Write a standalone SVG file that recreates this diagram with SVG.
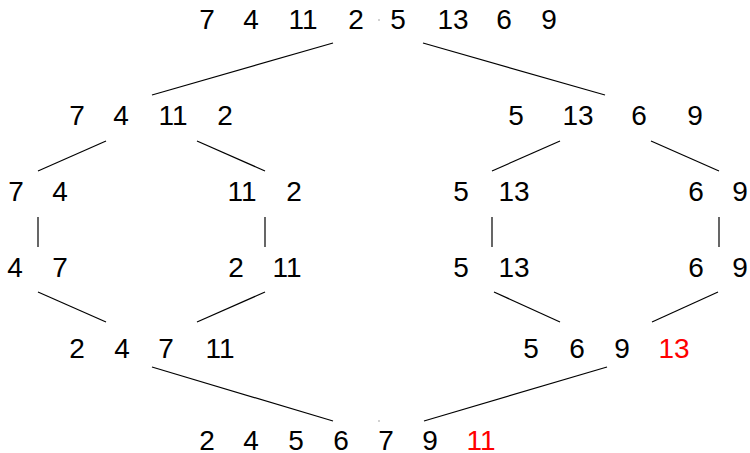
<svg xmlns="http://www.w3.org/2000/svg" width="750" height="453" viewBox="0 0 750 453">
<style>
text{font-family:"Liberation Sans",Arial,sans-serif;font-size:28px;fill:#000;text-anchor:middle}
.r{fill:#ff0000}
#edges line{stroke:#000;stroke-width:1.2}
</style>
<rect width="750" height="453" fill="#fff"/>
<g id="edges">
<line x1="152" y1="95" x2="333" y2="43"/>
<line x1="423" y1="43" x2="605" y2="95"/>
<line x1="106" y1="141" x2="38" y2="171"/>
<line x1="197" y1="141" x2="265" y2="171"/>
<line x1="560" y1="141" x2="492" y2="171"/>
<line x1="651" y1="141" x2="719" y2="171"/>
<line x1="38" y1="217" x2="38" y2="247"/>
<line x1="265" y1="217" x2="265" y2="247"/>
<line x1="492" y1="217" x2="492" y2="247"/>
<line x1="719" y1="217" x2="719" y2="247"/>
<line x1="38" y1="292" x2="106" y2="322"/>
<line x1="265" y1="292" x2="197" y2="322"/>
<line x1="494" y1="292" x2="560" y2="322"/>
<line x1="718" y1="292" x2="652" y2="322"/>
<line x1="152" y1="367" x2="333" y2="421"/>
<line x1="607" y1="367" x2="424" y2="421"/>
</g>
<circle cx="379" cy="20" r="0.8" fill="#999"/>
<circle cx="379" cy="421" r="0.8" fill="#999"/>
<g id="n0">
<text x="207" y="29">7</text><text x="251" y="29">4</text><text x="303" y="29">11</text><text x="356" y="29">2</text>
<text x="398" y="29">5</text><text x="453" y="29">13</text><text x="504" y="29">6</text><text x="549" y="29">9</text>
</g>
<g id="n1">
<text x="77" y="125">7</text><text x="121" y="125">4</text><text x="173" y="125">11</text><text x="225" y="125">2</text>
</g>
<g id="n2">
<text x="516" y="125">5</text><text x="578" y="125">13</text><text x="639" y="125">6</text><text x="695" y="125">9</text>
</g>
<g id="n3"><text x="16" y="201">7</text><text x="60" y="201">4</text></g>
<g id="n4"><text x="242" y="201">11</text><text x="294" y="201">2</text></g>
<g id="n5"><text x="461" y="201">5</text><text x="514" y="201">13</text></g>
<g id="n6"><text x="696" y="201">6</text><text x="740" y="201">9</text></g>
<g id="n7"><text x="15" y="277">4</text><text x="60" y="277">7</text></g>
<g id="n8"><text x="236" y="277">2</text><text x="287" y="277">11</text></g>
<g id="n9"><text x="461" y="277">5</text><text x="514" y="277">13</text></g>
<g id="n10"><text x="696" y="277">6</text><text x="740" y="277">9</text></g>
<g id="n11">
<text x="77" y="358">2</text><text x="122" y="358">4</text><text x="166" y="358">7</text><text x="220" y="358">11</text>
</g>
<g id="n12">
<text x="531" y="358">5</text><text x="577" y="358">6</text><text x="622" y="358">9</text><text class="r" x="674" y="358">13</text>
</g>
<g id="n13">
<text x="207" y="450">2</text><text x="251" y="450">4</text><text x="296" y="450">5</text><text x="341" y="450">6</text>
<text x="386" y="450">7</text><text x="430" y="450">9</text><text class="r" x="481" y="450">11</text>
</g>
</svg>
